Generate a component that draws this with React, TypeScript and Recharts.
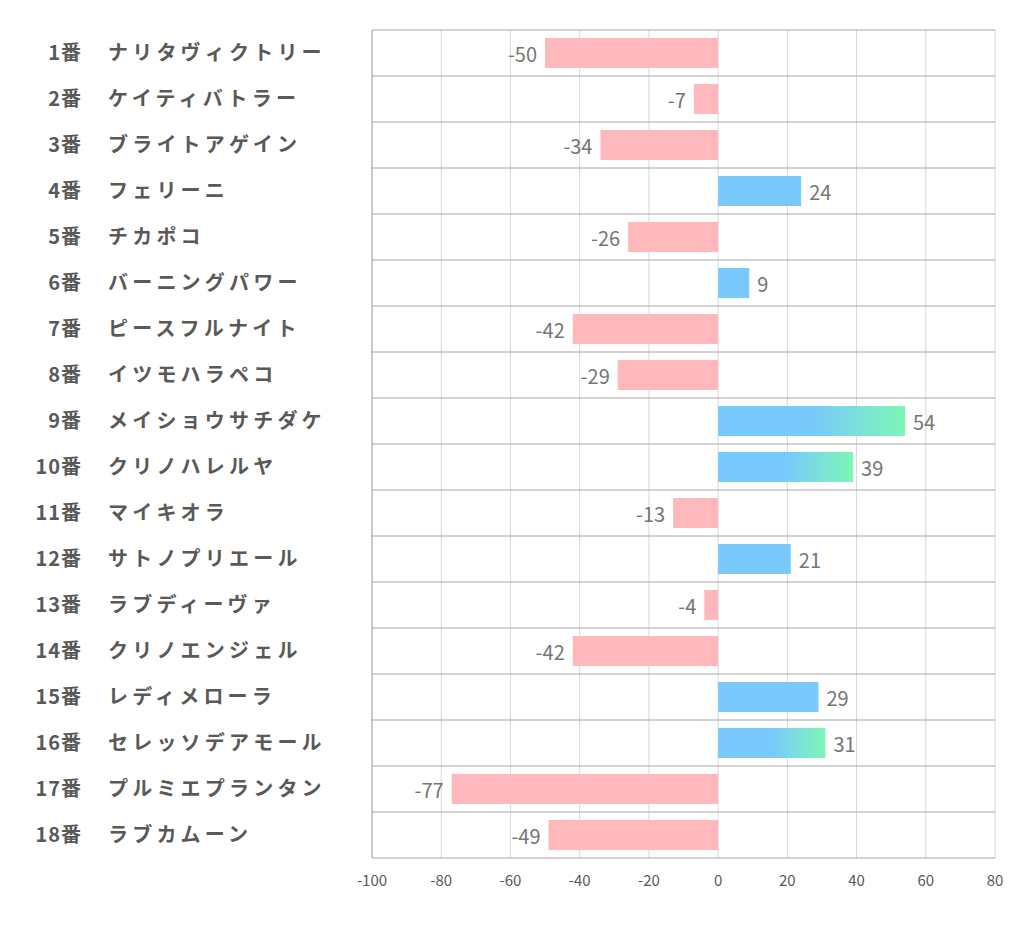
import React from 'react';
import { BarChart, Bar, XAxis, YAxis, CartesianGrid, Cell, LabelList } from 'recharts';

const numbers = ['1番','2番','3番','4番','5番','6番','7番','8番','9番','10番','11番','12番','13番','14番','15番','16番','17番','18番'];
const names = ['ナリタヴィクトリー','ケイティバトラー','ブライトアゲイン','フェリーニ','チカポコ','バーニングパワー','ピースフルナイト','イツモハラペコ','メイショウサチダケ','クリノハレルヤ','マイキオラ','サトノプリエール','ラブディーヴァ','クリノエンジェル','レディメローラ','セレッソデアモール','プルミエプランタン','ラブカムーン'];
const values = [-50,-7,-34,24,-26,9,-42,-29,54,39,-13,21,-4,-42,29,31,-77,-49];
const highlighted = [false,false,false,false,false,false,false,false,true,true,false,false,false,false,false,true,false,false];
const xTicks = [-100,-80,-60,-40,-20,0,20,40,60,80];

const data = numbers.map((n, i) => ({ key: n, num: n, name: names[i], value: values[i], hl: highlighted[i] }));

const PINK = '#FFB9BD';
const BLUE = '#79C9FD';
const GREEN = '#7CF7B6';
const TEXT = '#595959';

const YTick = (props: any) => {
  const { y, payload, index } = props;
  const d = data[index] ?? data.find((r) => r.key === payload.value);
  return (
    <g>
      <text x={82} y={y} dy={7} textAnchor="end" fill={TEXT} fontSize={20} fontWeight="bold" fontFamily="'Noto Sans CJK JP', sans-serif" letterSpacing={1}>
        {d ? d.num : payload.value}
      </text>
      <text x={108} y={y} dy={7} textAnchor="start" fill={TEXT} fontSize={20} fontWeight="bold" fontFamily="'Noto Sans CJK JP', sans-serif" letterSpacing={4.2}>
        {d ? d.name : ''}
      </text>
    </g>
  );
};

export default function App() {
  return (
    <div style={{ position: 'absolute', left: 0, top: 0, background: '#fff' }}>
      <BarChart
        width={1022}
        height={939}
        data={data}
        layout="vertical"
        margin={{ top: 30, right: 27, bottom: 51, left: 0 }}
        barCategoryGap={8}
      >
        <defs>
          <linearGradient id="hlGrad" x1="0" y1="0" x2="1" y2="0">
            <stop offset="0" stopColor={BLUE} />
            <stop offset="0.5" stopColor={BLUE} />
            <stop offset="1" stopColor={GREEN} />
          </linearGradient>
        </defs>
        <CartesianGrid horizontal={false} vertical={true} stroke="#d9d9d9" />
        <CartesianGrid
          vertical={false}
          horizontal={true}
          stroke="#a6a6a6"
          horizontalCoordinatesGenerator={({ offset }: any) => {
            const out: number[] = [];
            const step = offset.height / data.length;
            for (let i = 0; i < data.length; i++) out.push(offset.top + i * step);
            return out;
          }}
        />
        <XAxis
          type="number"
          domain={[-100, 80]}
          ticks={xTicks}
          interval={0}
          tickLine={false}
          axisLine={{ stroke: '#a6a6a6' }}
          height={30}
          tick={{ fill: TEXT, fontSize: 15, fontFamily: "'Noto Sans CJK JP', sans-serif" }}
          tickMargin={11}
        />
        <YAxis
          type="category"
          dataKey="key"
          width={372}
          tickLine={false}
          axisLine={{ stroke: '#a6a6a6' }}
          interval={0}
          tick={<YTick />}
        />
        <Bar dataKey="value" barSize={30} isAnimationActive={false}>
          {data.map((d, i) => (
            <Cell key={i} fill={d.value < 0 ? PINK : d.hl ? 'url(#hlGrad)' : BLUE} />
          ))}
          <LabelList
            dataKey="value"
            position="right"
            offset={8}
            fill="#767676"
            fontSize={20}
            dy={2}
            fontFamily="'Noto Sans CJK JP', sans-serif"
          />
        </Bar>
      </BarChart>
    </div>
  );
}
